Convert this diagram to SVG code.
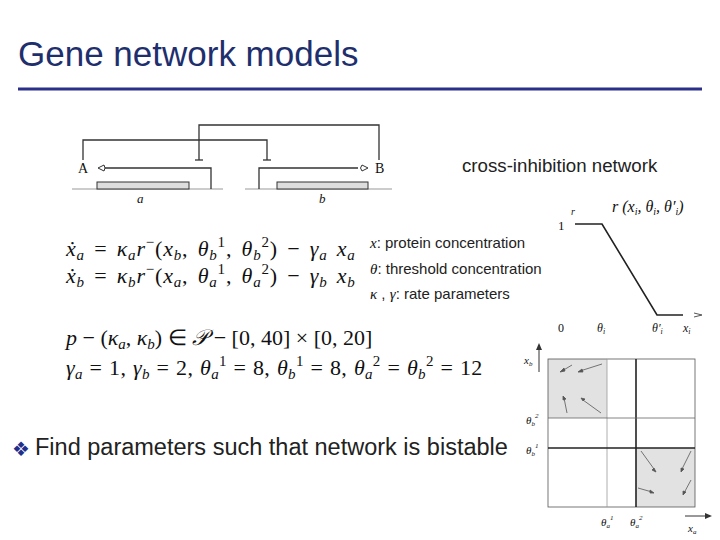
<svg xmlns="http://www.w3.org/2000/svg" width="720" height="540" viewBox="0 0 720 540">
<style>
.s{font-family:"Liberation Sans",Arial,sans-serif;fill:#222}
.m{font-family:"Liberation Serif","Times New Roman",serif;fill:#111}
.i{font-style:italic}
.ln{stroke:#333;stroke-width:1.3;fill:none}
.g{stroke:#999;stroke-width:1;fill:none}
</style>
<rect width="720" height="540" fill="#fff"/>
<text x="18" y="66" class="s" font-size="35" style="fill:#1f2f6e">Gene network models</text>
<line x1="18" y1="89" x2="702" y2="89" stroke="#2a2f8a" stroke-width="3"/>
<g id="gene-diagram">
<line x1="72" y1="189" x2="223" y2="189" class="g"/>
<line x1="245" y1="189" x2="392" y2="189" class="g"/>
<rect x="97" y="182" width="92" height="7" fill="#ddd" stroke="#333"/>
<rect x="277" y="182" width="91" height="7" fill="#ddd" stroke="#333"/>
<text x="78" y="173" class="m" font-size="14">A</text>
<text x="375" y="173" class="m" font-size="14">B</text>
<text x="137" y="203" class="m i" font-size="13">a</text>
<text x="319" y="203" class="m i" font-size="13">b</text>
</g>
<g id="connectors">
<path d="M211,189 V168 H105" class="ln"/>
<path d="M98,168 L104,165 Q106,168 104,171 Z" fill="#fff" stroke="#333"/>
<path d="M259,189 V168 H358" class="ln"/>
<path d="M368,168 L362,165 Q359,168 362,171 Z" fill="#fff" stroke="#333"/>
<path d="M83,160 V140 H267 V160" class="ln"/>
<line x1="263" y1="160" x2="271" y2="160" class="ln" stroke-width="2"/>
<path d="M379,160 V125 H199 V160" class="ln"/>
<line x1="195" y1="160" x2="203" y2="160" class="ln" stroke-width="2"/>
</g>
<text x="462" y="172" class="s" font-size="18.7">cross-inhibition network</text>
<g id="equations" class="m" font-size="22" word-spacing="3" letter-spacing="0.8">
<text x="66" y="256"><tspan class="i">ẋ</tspan><tspan class="i" font-size="15" dy="4">a</tspan><tspan dy="-4"> = </tspan><tspan class="i">κ</tspan><tspan class="i" font-size="15" dy="4">a</tspan><tspan class="i" dy="-4">r</tspan><tspan font-size="15" dy="-9">−</tspan><tspan dy="9">(</tspan><tspan class="i">x</tspan><tspan class="i" font-size="15" dy="4">b</tspan><tspan dy="-4">, </tspan><tspan class="i">θ</tspan><tspan class="i" font-size="15" dy="4">b</tspan><tspan font-size="15" dy="-13">1</tspan><tspan dy="9">, </tspan><tspan class="i">θ</tspan><tspan class="i" font-size="15" dy="4">b</tspan><tspan font-size="15" dy="-13">2</tspan><tspan dy="9">) − </tspan><tspan class="i">γ</tspan><tspan class="i" font-size="15" dy="4">a</tspan><tspan class="i" dy="-4"> x</tspan><tspan class="i" font-size="15" dy="4">a</tspan></text>
<text x="66" y="283"><tspan class="i">ẋ</tspan><tspan class="i" font-size="15" dy="4">b</tspan><tspan dy="-4"> = </tspan><tspan class="i">κ</tspan><tspan class="i" font-size="15" dy="4">b</tspan><tspan class="i" dy="-4">r</tspan><tspan font-size="15" dy="-9">−</tspan><tspan dy="9">(</tspan><tspan class="i">x</tspan><tspan class="i" font-size="15" dy="4">a</tspan><tspan dy="-4">, </tspan><tspan class="i">θ</tspan><tspan class="i" font-size="15" dy="4">a</tspan><tspan font-size="15" dy="-13">1</tspan><tspan dy="9">, </tspan><tspan class="i">θ</tspan><tspan class="i" font-size="15" dy="4">a</tspan><tspan font-size="15" dy="-13">2</tspan><tspan dy="9">) − </tspan><tspan class="i">γ</tspan><tspan class="i" font-size="15" dy="4">b</tspan><tspan class="i" dy="-4"> x</tspan><tspan class="i" font-size="15" dy="4">b</tspan></text>
<text x="66" y="345" letter-spacing="0" word-spacing="0"><tspan class="i">p</tspan><tspan> − (</tspan><tspan class="i">κ</tspan><tspan class="i" font-size="15" dy="4">a</tspan><tspan dy="-4">, </tspan><tspan class="i">κ</tspan><tspan class="i" font-size="15" dy="4">b</tspan><tspan dy="-4">) ∈ </tspan><tspan class="i">𝒫</tspan><tspan> − [0, 40] × [0, 20]</tspan></text>
<text x="66" y="375" letter-spacing="0.3" word-spacing="1"><tspan class="i">γ</tspan><tspan class="i" font-size="15" dy="4">a</tspan><tspan dy="-4"> = 1, </tspan><tspan class="i">γ</tspan><tspan class="i" font-size="15" dy="4">b</tspan><tspan dy="-4"> = 2, </tspan><tspan class="i">θ</tspan><tspan class="i" font-size="15" dy="4">a</tspan><tspan font-size="15" dy="-13">1</tspan><tspan dy="9"> = 8, </tspan><tspan class="i">θ</tspan><tspan class="i" font-size="15" dy="4">b</tspan><tspan font-size="15" dy="-13">1</tspan><tspan dy="9"> = 8, </tspan><tspan class="i">θ</tspan><tspan class="i" font-size="15" dy="4">a</tspan><tspan font-size="15" dy="-13">2</tspan><tspan dy="9"> = </tspan><tspan class="i">θ</tspan><tspan class="i" font-size="15" dy="4">b</tspan><tspan font-size="15" dy="-13">2</tspan><tspan dy="9"> = 12</tspan></text>
</g>
<g class="s" font-size="15">
<text x="370" y="248"><tspan class="m i">x</tspan>: protein concentration</text>
<text x="370" y="274"><tspan class="m i">θ</tspan>: threshold concentration</text>
<text x="370" y="299"><tspan class="m i">κ</tspan> , <tspan class="m i">γ</tspan>: rate parameters</text>
</g>
<g id="ramp-plot">
<path d="M575,224 H602 L657,315 H683" stroke="#222" stroke-width="1.6" fill="none"/>
<text x="558" y="230" class="m" font-size="13">1</text>
<text x="571" y="215" class="m i" font-size="10">r</text>
<text x="612" y="212" class="m i" font-size="16">r  (x<tspan font-size="10" dy="3">i</tspan><tspan dy="-3">, θ</tspan><tspan font-size="10" dy="3">i</tspan><tspan dy="-3">, θ′</tspan><tspan font-size="10" dy="3">i</tspan><tspan dy="-3">)</tspan></text>
<path d="M694,313 L702,315 L694,317" stroke="#555" fill="none"/>
<g class="m i" font-size="12" fill="#555">
<text x="558" y="332" font-style="normal">0</text>
<text x="597" y="332">θ<tspan font-size="8" dy="2">i</tspan></text>
<text x="652" y="332">θ′<tspan font-size="8" dy="2">i</tspan></text>
<text x="683" y="332">x<tspan font-size="8" dy="2">i</tspan></text>
</g>
</g>
<g id="phase-plot">
<rect x="548" y="359" width="59" height="59" fill="#e2e2e2"/>
<rect x="636" y="448" width="59" height="59" fill="#e2e2e2"/>
<rect x="548" y="359" width="147" height="148" fill="none" stroke="#555" stroke-width="0.8"/>
<line x1="607" y1="359" x2="607" y2="507" stroke="#999" stroke-width="0.8"/>
<line x1="636" y1="359" x2="636" y2="507" stroke="#222" stroke-width="1.6"/>
<line x1="548" y1="418" x2="695" y2="418" stroke="#666" stroke-width="0.8"/>
<line x1="548" y1="448" x2="695" y2="448" stroke="#222" stroke-width="1.6"/>
<g stroke="#555" stroke-width="0.8" fill="#555">
<line x1="572" y1="365" x2="562" y2="371"/><path d="M560,372 l4,-4 l1,3z"/>
<line x1="602" y1="364" x2="580" y2="371"/><path d="M578,372 l4,-3 l1,3z"/>
<line x1="567" y1="413" x2="564" y2="398"/><path d="M563,396 l3,3 l-3,1z"/>
<line x1="601" y1="413" x2="583" y2="400"/><path d="M581,398 l4,1 l-2,2z"/>
<line x1="641" y1="451" x2="654" y2="469"/><path d="M656,472 l-4,-2 l2,-2z"/>
<line x1="691" y1="451" x2="682" y2="469"/><path d="M681,472 l0,-4 l3,1z"/>
<line x1="691" y1="480" x2="684" y2="493"/><path d="M683,495 l0,-4 l3,1z"/>
<line x1="638" y1="488" x2="652" y2="492"/><path d="M654,493 l-4,-3 l0,3z"/>
</g>
<line x1="539" y1="372" x2="539" y2="345" stroke="#333"/>
<path d="M536,350 L539,343 L542,350" fill="#333"/>
<line x1="685" y1="516" x2="710" y2="516" stroke="#333"/>
<path d="M705,513 L712,516 L705,519" fill="#333"/>
<g class="m i" font-size="11" fill="#444">
<text x="524" y="364">x<tspan font-size="7" dy="2">b</tspan></text>
<text x="526" y="424">θ<tspan font-size="7" dy="2">b</tspan><tspan font-size="7" dy="-8">2</tspan></text>
<text x="526" y="454">θ<tspan font-size="7" dy="2">b</tspan><tspan font-size="7" dy="-8">1</tspan></text>
<text x="601" y="526">θ<tspan font-size="7" dy="2">a</tspan><tspan font-size="7" dy="-8">1</tspan></text>
<text x="630" y="526">θ<tspan font-size="7" dy="2">a</tspan><tspan font-size="7" dy="-8">2</tspan></text>
<text x="688" y="532">x<tspan font-size="7" dy="2">a</tspan></text>
</g>
</g>
<text x="12" y="456" font-family="DejaVu Sans,sans-serif" font-size="20" fill="#1f2f8a">❖</text>
<text x="35" y="455" class="s" font-size="23.5">Find parameters such that network is bistable</text>
</svg>
